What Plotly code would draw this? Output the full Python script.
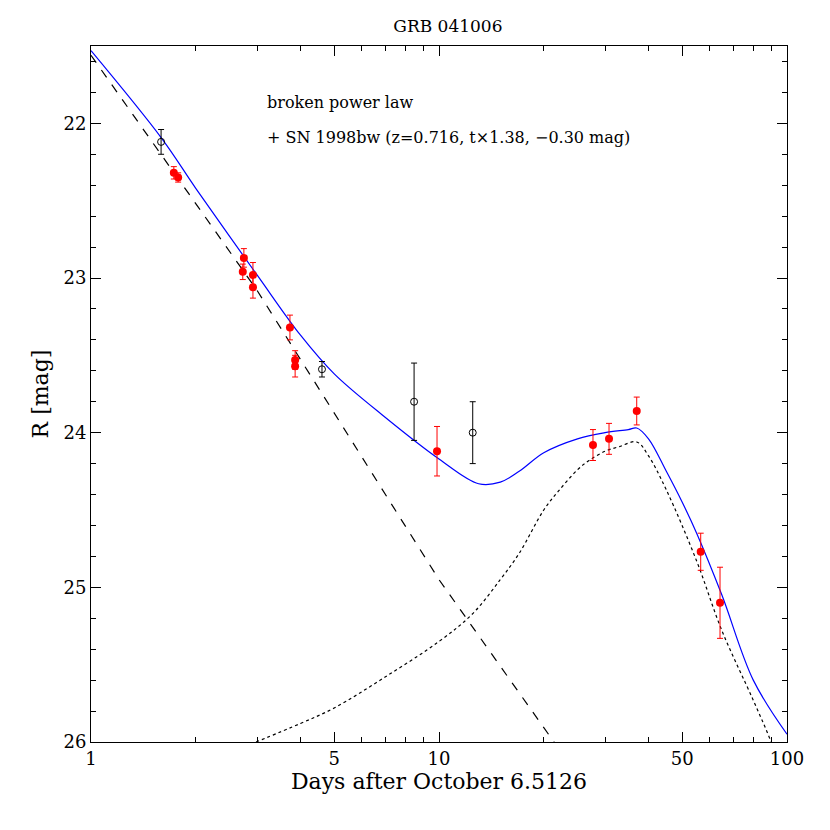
import plotly.graph_objects as go

red_t = [1.73, 1.78, 2.75, 2.73, 2.92, 2.92, 3.73, 3.86, 3.86, 9.87, 27.7, 30.8, 37.0, 56.5, 64.2]
red_m = [22.32, 22.35, 22.87, 22.96, 22.98, 23.06, 23.32, 23.53, 23.57, 24.12, 24.08, 24.04, 23.86, 24.77, 25.10]
red_e = [0.04, 0.03, 0.06, 0.05, 0.08, 0.07, 0.08, 0.06, 0.07, 0.16, 0.1, 0.1, 0.09, 0.12, 0.23]
blk_t = [1.59, 4.61, 8.48, 12.5]
blk_m = [22.12, 23.59, 23.80, 24.0]
blk_e = [0.08, 0.05, 0.25, 0.2]

pl_t = [1, 3, 10, 21.4, 25]
pl_m = [21.56, 23.08, 24.95, 26.0, 26.3]
sn_t = [2.98, 4, 5, 7, 10, 12.5, 15, 17, 20, 22, 25, 27, 30, 33, 37, 40, 45, 55, 65, 80, 90, 100]
sn_m = [26.0, 25.88, 25.78, 25.58, 25.35, 25.17, 24.95, 24.78, 24.5, 24.38, 24.24, 24.18, 24.12, 24.09, 24.06, 24.15, 24.37, 24.83, 25.28, 25.73, 26.0, 26.3]
tot_t = [1, 1.6, 2, 3, 4, 5, 7, 10, 13, 15, 17, 20, 25, 30, 35, 37, 40, 45, 50, 55, 65, 80, 100]
tot_m = [21.53, 22.1, 22.42, 22.98, 23.37, 23.62, 23.9, 24.17, 24.33, 24.32, 24.25, 24.13, 24.04, 24.0, 23.98, 23.97, 24.04, 24.25, 24.45, 24.65, 25.05, 25.6, 25.95]

fig = go.Figure()
fig.add_trace(go.Scatter(x=pl_t, y=pl_m, mode="lines", line=dict(color="black", dash="dash", width=1.2)))
fig.add_trace(go.Scatter(x=sn_t, y=sn_m, mode="lines", line=dict(color="black", dash="dot", width=1.2, shape="spline")))
fig.add_trace(go.Scatter(x=tot_t, y=tot_m, mode="lines", line=dict(color="blue", width=1.2, shape="spline")))
fig.add_trace(go.Scatter(x=blk_t, y=blk_m, mode="markers",
                         error_y=dict(array=blk_e, color="black", width=3, thickness=1),
                         marker=dict(symbol="circle-open", color="black", size=7)))
fig.add_trace(go.Scatter(x=red_t, y=red_m, mode="markers",
                         error_y=dict(array=red_e, color="red", width=3, thickness=1),
                         marker=dict(color="red", size=8)))

fig.add_annotation(x=0.25, y=0.935, xref="paper", yref="paper", xanchor="left", showarrow=False,
                   text="broken power law", font=dict(size=16, family="DejaVu Serif"))
fig.add_annotation(x=0.25, y=0.885, xref="paper", yref="paper", xanchor="left", showarrow=False,
                   text="+ SN 1998bw (z=0.716, t×1.38, −0.30 mag)", font=dict(size=16, family="DejaVu Serif"))

ax = dict(showline=True, linecolor="black", mirror="ticks", ticks="inside", ticklen=10,
          tickcolor="black", showgrid=False, zeroline=False)
fig.update_xaxes(type="log", range=[0, 2], tickvals=[1, 5, 10, 50, 100], ticktext=["1", "5", "10", "50", "100"],
                 minor=dict(ticks="inside", ticklen=5, tickcolor="black",
                            tickvals=[2, 3, 4, 6, 7, 8, 9, 20, 30, 40, 60, 70, 80, 90]),
                 title=dict(text="Days after October 6.5126", standoff=5), **ax)
fig.update_yaxes(range=[26, 21.5], dtick=1, minor=dict(ticks="inside", ticklen=5, tickcolor="black", dtick=0.2),
                 title=dict(text="R [mag]", standoff=8), **ax)
fig.update_layout(width=830, height=830, showlegend=False, plot_bgcolor="white", paper_bgcolor="white",
                  font=dict(family="DejaVu Serif", size=18, color="black"),
                  title=dict(text="GRB 041006", x=0.53, y=0.985, font=dict(size=17)),
                  margin=dict(l=83, r=51, t=38, b=96))
fig.write_html("out.html")
